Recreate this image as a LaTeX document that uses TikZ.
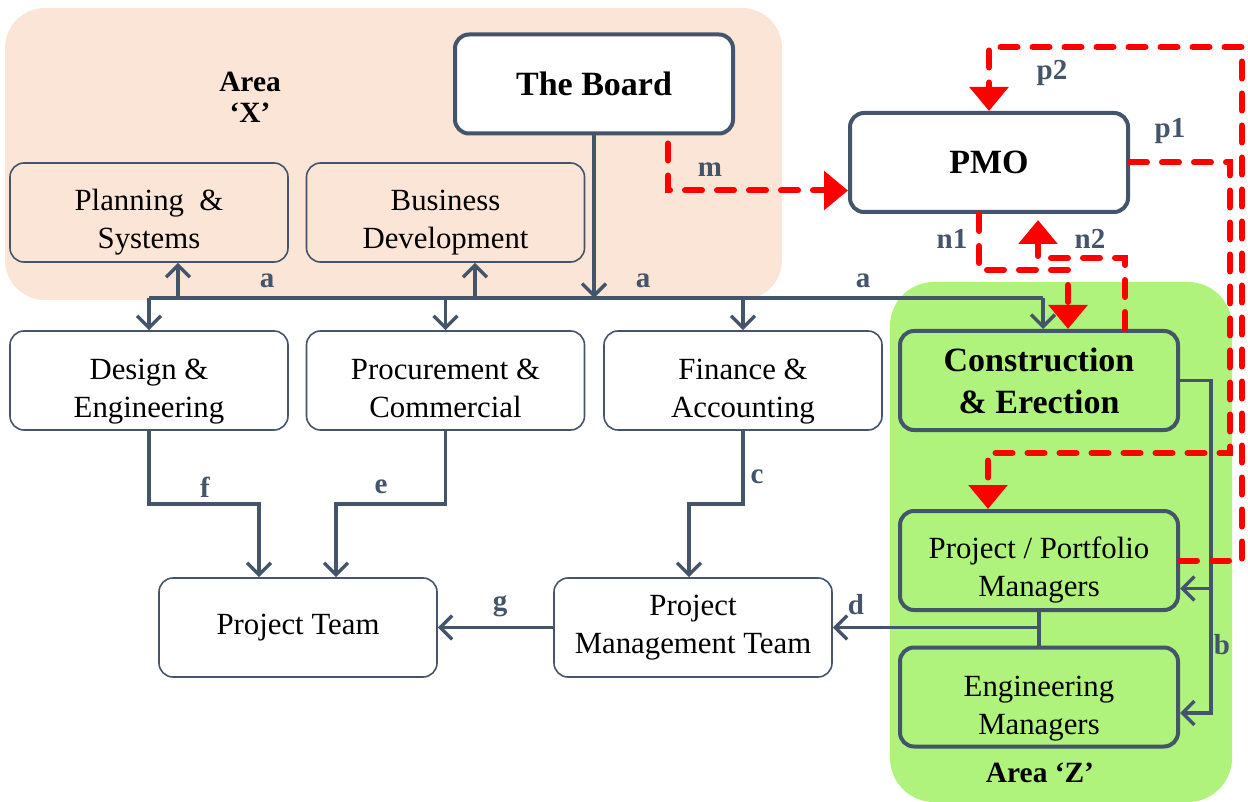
\documentclass[tikz,border=0pt]{standalone}
\usepackage{fontspec}
\setmainfont{Liberation Serif}
\usetikzlibrary{arrows.meta}
\definecolor{slate}{RGB}{68,84,106}
\definecolor{peach}{RGB}{251,229,214}
\definecolor{lgreen}{RGB}{175,243,124}
\tikzset{
  orgnode/.style = {align=center, inner sep=0pt, text centered, rounded corners=7pt,
    minimum width=139pt, minimum height=49.5pt, font=\fontsize{15.4}{19}\selectfont},
  org_t/.style = {orgnode, draw=slate, line width=0.8pt, fill=white},
  org_p/.style = {org_t, fill=peach},
  org_b/.style = {orgnode, draw=slate, line width=2pt, fill=white, font=\bfseries\fontsize{17}{21}\selectfont},
  org_g/.style = {orgnode, draw=slate, line width=2pt, fill=lgreen},
  link/.style = {draw=slate, line width=1.7pt, -{Straight Barb[length=6pt,width=12pt]}},
  link_r/.style = {draw=red, line width=3pt, dash pattern=on 8.5pt off 7.5pt, line cap=round,
    -{Triangle[width=19pt,length=12pt]}},
  lbl/.style = {text=slate, inner sep=0pt, font=\bfseries\fontsize{14.5}{17}\selectfont},
  area/.style = {text=black, inner sep=0pt, align=center, font=\bfseries\fontsize{14.7}{15.5}\selectfont},
}
% struts to sit two-line texts lower in their boxes
\newcommand{\orgtop}[1]{\rule{0pt}{#1}}
\newcommand{\orgbot}{\rule[-4pt]{0pt}{4pt}}

\begin{document}
\begin{tikzpicture}[x=0.5pt, y=-0.5pt]
  \useasboundingbox (0,0) rectangle (1248,802);
  % areas
  \fill[peach, rounded corners=20pt] (5,8) rectangle (782,300);
  \fill[lgreen, rounded corners=22pt] (890,282) rectangle (1232,802);
  \node [area] (areax) at (250,97) {Area\\‘X’};
  \node [area] (areaz) at (1040,773) {Area ‘Z’};

  % boxes
  \node [org_b] (board) at (594,84) {The Board};
  \node [org_b] (pmo) at (989,162.5) {PMO};
  \node [org_p] (plan) at (149,212.5) {\orgtop{21.5pt}Planning \ \&\\Systems\orgbot};
  \node [org_p] (busdev) at (445.5,212.5) {\orgtop{21.5pt}Business\\Development\orgbot};
  \node [org_t] (design) at (149,380.5) {\orgtop{21.5pt}Design \&\\Engineering\orgbot};
  \node [org_t] (procure) at (445.5,380.5) {\orgtop{21.5pt}Procurement \&\\Commercial\orgbot};
  \node [org_t] (finance) at (743,380.5) {\orgtop{21.5pt}Finance \&\\Accounting\orgbot};
  \node [org_g, font=\bfseries\fontsize{17}{21}\selectfont] (constr) at (1039,380.5) {Construction\\\& Erection};
  \node [org_g] (ppm) at (1039,560.5) {\orgtop{20.5pt}Project / Portfolio\\Managers\orgbot};
  \node [org_g] (engm) at (1039,697) {\orgtop{22pt}Engineering\\Managers\orgbot};
  \node [org_t] (pteam) at (298,627.5) {Project Team};
  \node [org_t] (pmt) at (693,627.5) {Project\\Management Team};

  % a
  \coordinate (bus) at (0,298);
  \draw[slate, line width=2pt] (design.north |- bus) -- ([xshift=2pt]constr.north |- bus);
  \draw[link] (board.south) -- (board.south |- bus);
  \draw[link] ([xshift=14.5pt]plan.south |- bus) -- ([xshift=14.5pt]plan.south);
  \draw[link] ([xshift=14.75pt]busdev.south |- bus) -- ([xshift=14.75pt]busdev.south);
  \foreach \n in {design, procure, finance}
    \draw[link] (\n.north |- bus) -- (\n.north);
  \draw[link] ([xshift=2pt]constr.north |- bus) -- ([xshift=2pt]constr.north);

  % f, e, c, g
  \draw[link] (design.south) -- ++(0,73) -| ([xshift=-19.5pt]pteam.north);
  \draw[link] (procure.south) -- ++(0,73) -| ([xshift=19pt]pteam.north);
  \draw[link] (finance.south) -- ++(0,73) -| ([xshift=-2pt]pmt.north);
  \draw[link] (pmt.west) -- (pteam.east);

  % d, b
  \draw[slate, line width=1.7pt] (ppm.south) -- (engm.north);
  \draw[link] (ppm.south |- pmt.east) -- (pmt.east);
  \draw[link] (constr.east) -- ++(31,0) coordinate (bturn) |- ([yshift=-14pt]ppm.east);
  \draw[link] (bturn) |- ([yshift=-8pt]engm.east);

  % red links
  \coordinate (p1c) at (1230,453);
  \coordinate (p2c) at (1242,47);
  \coordinate (nlo) at (0,270);
  \coordinate (nhi) at (0,258);
  \draw[link_r, shorten <=4pt] ([xshift=37pt]board.south) |- ([yshift=-14pt]pmo.west);
  \draw[link_r] (pmo.east) -| (p1c) -| ([xshift=-25.5pt]ppm.north);
  \draw[link_r] (ppm.east) -| (p2c) -| (pmo.north);
  \draw[link_r] ([xshift=-5pt]pmo.south) |- ([xshift=14.5pt]constr.north |- nlo)
    -- ([xshift=14.5pt]constr.north);
  \draw[link_r, shorten >=3pt] ([xshift=43pt]constr.north) |- ([xshift=24.5pt]pmo.south |- nhi)
    -- ([xshift=24.5pt]pmo.south);

  % labels
  \node [lbl] (la1) at (267,281) {a};
  \node [lbl] (la2) at (643,281) {a};
  \node [lbl] (la3) at (863,281) {a};
  \node [lbl] (lf) at (205,487) {f};
  \node [lbl] (le) at (381,487) {e};
  \node [lbl] (lc) at (757,477) {c};
  \node [lbl] (lg) at (500,606) {g};
  \node [lbl] (ld) at (856,605) {d};
  \node [lbl] (lb) at (1222,645) {b};
  \node [lbl] (lm) at (710,170) {m};
  \node [lbl] (lp2) at (1052,73) {p2};
  \node [lbl] (lp1) at (1170,131) {p1};
  \node [lbl] (ln1) at (952,239) {n1};
  \node [lbl] (ln2) at (1090,239) {n2};
\end{tikzpicture}
\end{document}
